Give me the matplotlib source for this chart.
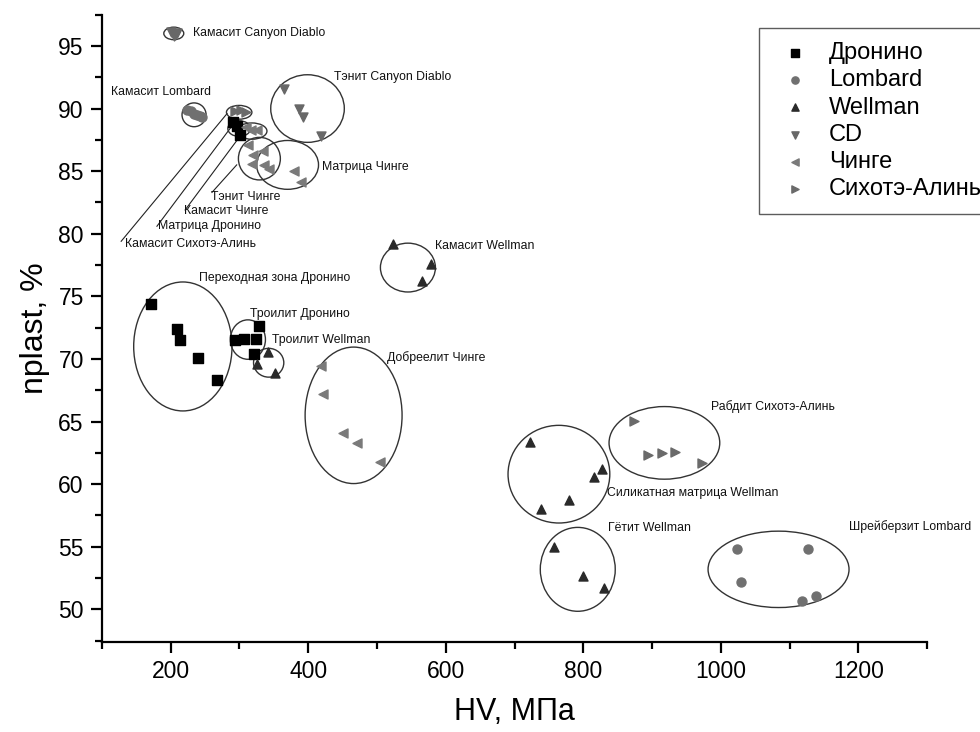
import matplotlib
matplotlib.use('Agg')
import matplotlib.pyplot as plt
from matplotlib.patches import Ellipse
from matplotlib.ticker import MultipleLocator

plt.rcParams['font.family'] = ['Liberation Sans', 'DejaVu Sans']

# series data: HV (MPa) and nplast (%)
dronino_x = [172, 209, 213, 239, 268, 294, 306, 324, 328, 321, 291, 297, 301]
dronino_y = [74.4, 72.4, 71.5, 70.1, 68.3, 71.5, 71.6, 71.6, 72.6, 70.4, 88.9, 88.6, 87.9]

lombard_x = [224, 229, 234, 238, 242, 246, 1023, 1127, 1030, 1118, 1138]
lombard_y = [89.9, 89.8, 89.6, 89.5, 89.4, 89.3, 54.8, 54.8, 52.15, 50.7, 51.1]

wellman_x = [523, 578, 565, 341, 326, 352, 722, 738, 779, 815, 827, 757, 800, 830]
wellman_y = [79.2, 77.6, 76.2, 70.55, 69.6, 68.9, 63.4, 58.0, 58.7, 60.55, 61.2, 55.0, 52.7, 51.7]

cd_x = [201, 205, 209, 206, 365, 386, 393, 419]
cd_y = [96.1, 95.8, 96.0, 95.9, 91.6, 90.0, 89.3, 87.8]

chinge_x = [309, 317, 326, 312, 320, 334, 318, 336, 343, 380, 389, 418, 421, 451, 471, 505]
chinge_y = [88.5, 88.3, 88.3, 87.1, 86.3, 86.6, 85.6, 85.5, 85.2, 85.0, 84.1,
            69.4, 67.2, 64.1, 63.3, 61.8]

sikhote_x = [294, 302, 310, 874, 894, 915, 934, 973]
sikhote_y = [89.8, 89.9, 89.7, 65.05, 62.3, 62.5, 62.6, 61.7]

series_names = ['Дронино', 'Lombard', 'Wellman', 'CD', 'Чинге', 'Сихотэ-Алинь']

# group annotations: label, label position, ellipse (center, width, height)
groups = [
    ('Камасит Canyon Diablo', (233, 96.0), (204.5, 96.0), 29, 1.0),
    ('Тэнит Canyon Diablo', (437, 92.5), (399, 90.0), 107, 5.4),
    ('Камасит Lombard', (113, 91.35), (234, 89.5), 35, 1.9),
    ('Матрица Чинге', (420, 85.3), (370, 85.5), 90, 3.9),
    ('Тэнит Чинге', (258, 82.9), (329, 86.0), 61, 3.4),
    ('Камасит Чинге', (220, 81.8), (318, 88.2), 44, 1.3),
    ('Матрица Дронино', (182, 80.6), (299.6, 88.4), 33, 1.25),
    ('Камасит Сихотэ-Алинь', (133, 79.2), (299.6, 89.7), 37, 1.1),
    ('Камасит Wellman', (584, 79.0), (545, 77.3), 80, 3.9),
    ('Переходная зона Дронино', (241, 76.5), (217.7, 71.0), 143, 10.3),
    ('Троилит Дронино', (316, 73.6), (312.3, 71.55), 51, 3.15),
    ('Троилит Wellman', (347, 71.5), (342.5, 69.7), 44, 2.3),
    ('Добреелит Чинге', (514, 70.1), (466, 65.5), 141, 10.9),
    ('Рабдит Сихотэ-Алинь', (986, 66.2), (918, 63.3), 161, 5.8),
    ('Силикатная матрица Wellman', (834, 59.3), (764.6, 60.8), 148, 7.8),
    ('Гётит Wellman', (836, 56.5), (792, 53.2), 109, 6.7),
    ('Шрейберзит Lombard', (1186, 56.6), (1084, 53.2), 205, 6.1),
]

# leader lines from labels to small ellipses
leaders = [
    ((128, 79.4), (282, 89.6)),
    ((180, 80.6), (289, 88.6)),
    ((221, 81.9), (301, 87.8)),
    ((260, 83.3), (296, 85.5)),
]

fig = plt.figure(figsize=(9.8, 7.32), dpi=100)
ax = fig.add_axes([0.104, 0.123, 0.842, 0.857])

for (x0, y0), (x1, y1) in leaders:
    ax.plot([x0, x1], [y0, y1], color='#222222', lw=0.8, zorder=1)

for label, (tx, ty), (cx, cy), w, h in groups:
    ax.add_patch(Ellipse((cx, cy), w, h, fill=False, ec='#333333', lw=1.0, zorder=2))
    ax.text(tx, ty, label, fontsize=8.8, ha='left', va='center', color='#111111', zorder=4)

ms = 42
ax.scatter(dronino_x, dronino_y, marker='s', s=ms, color='black', label=series_names[0], zorder=3)
ax.scatter(lombard_x, lombard_y, marker='o', s=ms, color='#707070', label=series_names[1], zorder=3)
ax.scatter(wellman_x, wellman_y, marker='^', s=ms, color='#2a2a2a', label=series_names[2], zorder=3)
ax.scatter(cd_x, cd_y, marker='v', s=ms, color='#686868', label=series_names[3], zorder=3)
ax.scatter(chinge_x, chinge_y, marker='<', s=ms, color='#7a7a7a', label=series_names[4], zorder=3)
ax.scatter(sikhote_x, sikhote_y, marker='>', s=ms, color='#6a6a6a', label=series_names[5], zorder=3)

ax.set_xlim(100, 1300)
ax.set_ylim(47.4, 97.5)
ax.xaxis.set_minor_locator(MultipleLocator(100))
ax.yaxis.set_minor_locator(MultipleLocator(2.5))
ax.set_yticks([50, 55, 60, 65, 70, 75, 80, 85, 90, 95])
ax.set_xticks([200, 400, 600, 800, 1000, 1200])

for s in ['top', 'right']:
    ax.spines[s].set_visible(False)
for s in ['left', 'bottom']:
    ax.spines[s].set_linewidth(1.6)
ax.tick_params(which='major', direction='out', length=8, width=1.6, labelsize=16.5, pad=5)
ax.tick_params(which='minor', direction='out', length=5, width=1.6)

ax.set_xlabel('HV, МПа', fontsize=22, labelpad=10)
ax.set_ylabel('nplast, %', fontsize=23, labelpad=6)

leg = ax.legend(loc='upper left', bbox_to_anchor=(0.7745, 0.9617), bbox_transform=fig.transFigure,
                fontsize=17, frameon=True, fancybox=False, edgecolor='#333333',
                handlelength=1.85, handletextpad=0.5, labelspacing=0.22, borderpad=0.6,
                markerscale=0.8, borderaxespad=0)
leg.get_frame().set_linewidth(1.0)

fig.savefig('out.png', dpi=100)
